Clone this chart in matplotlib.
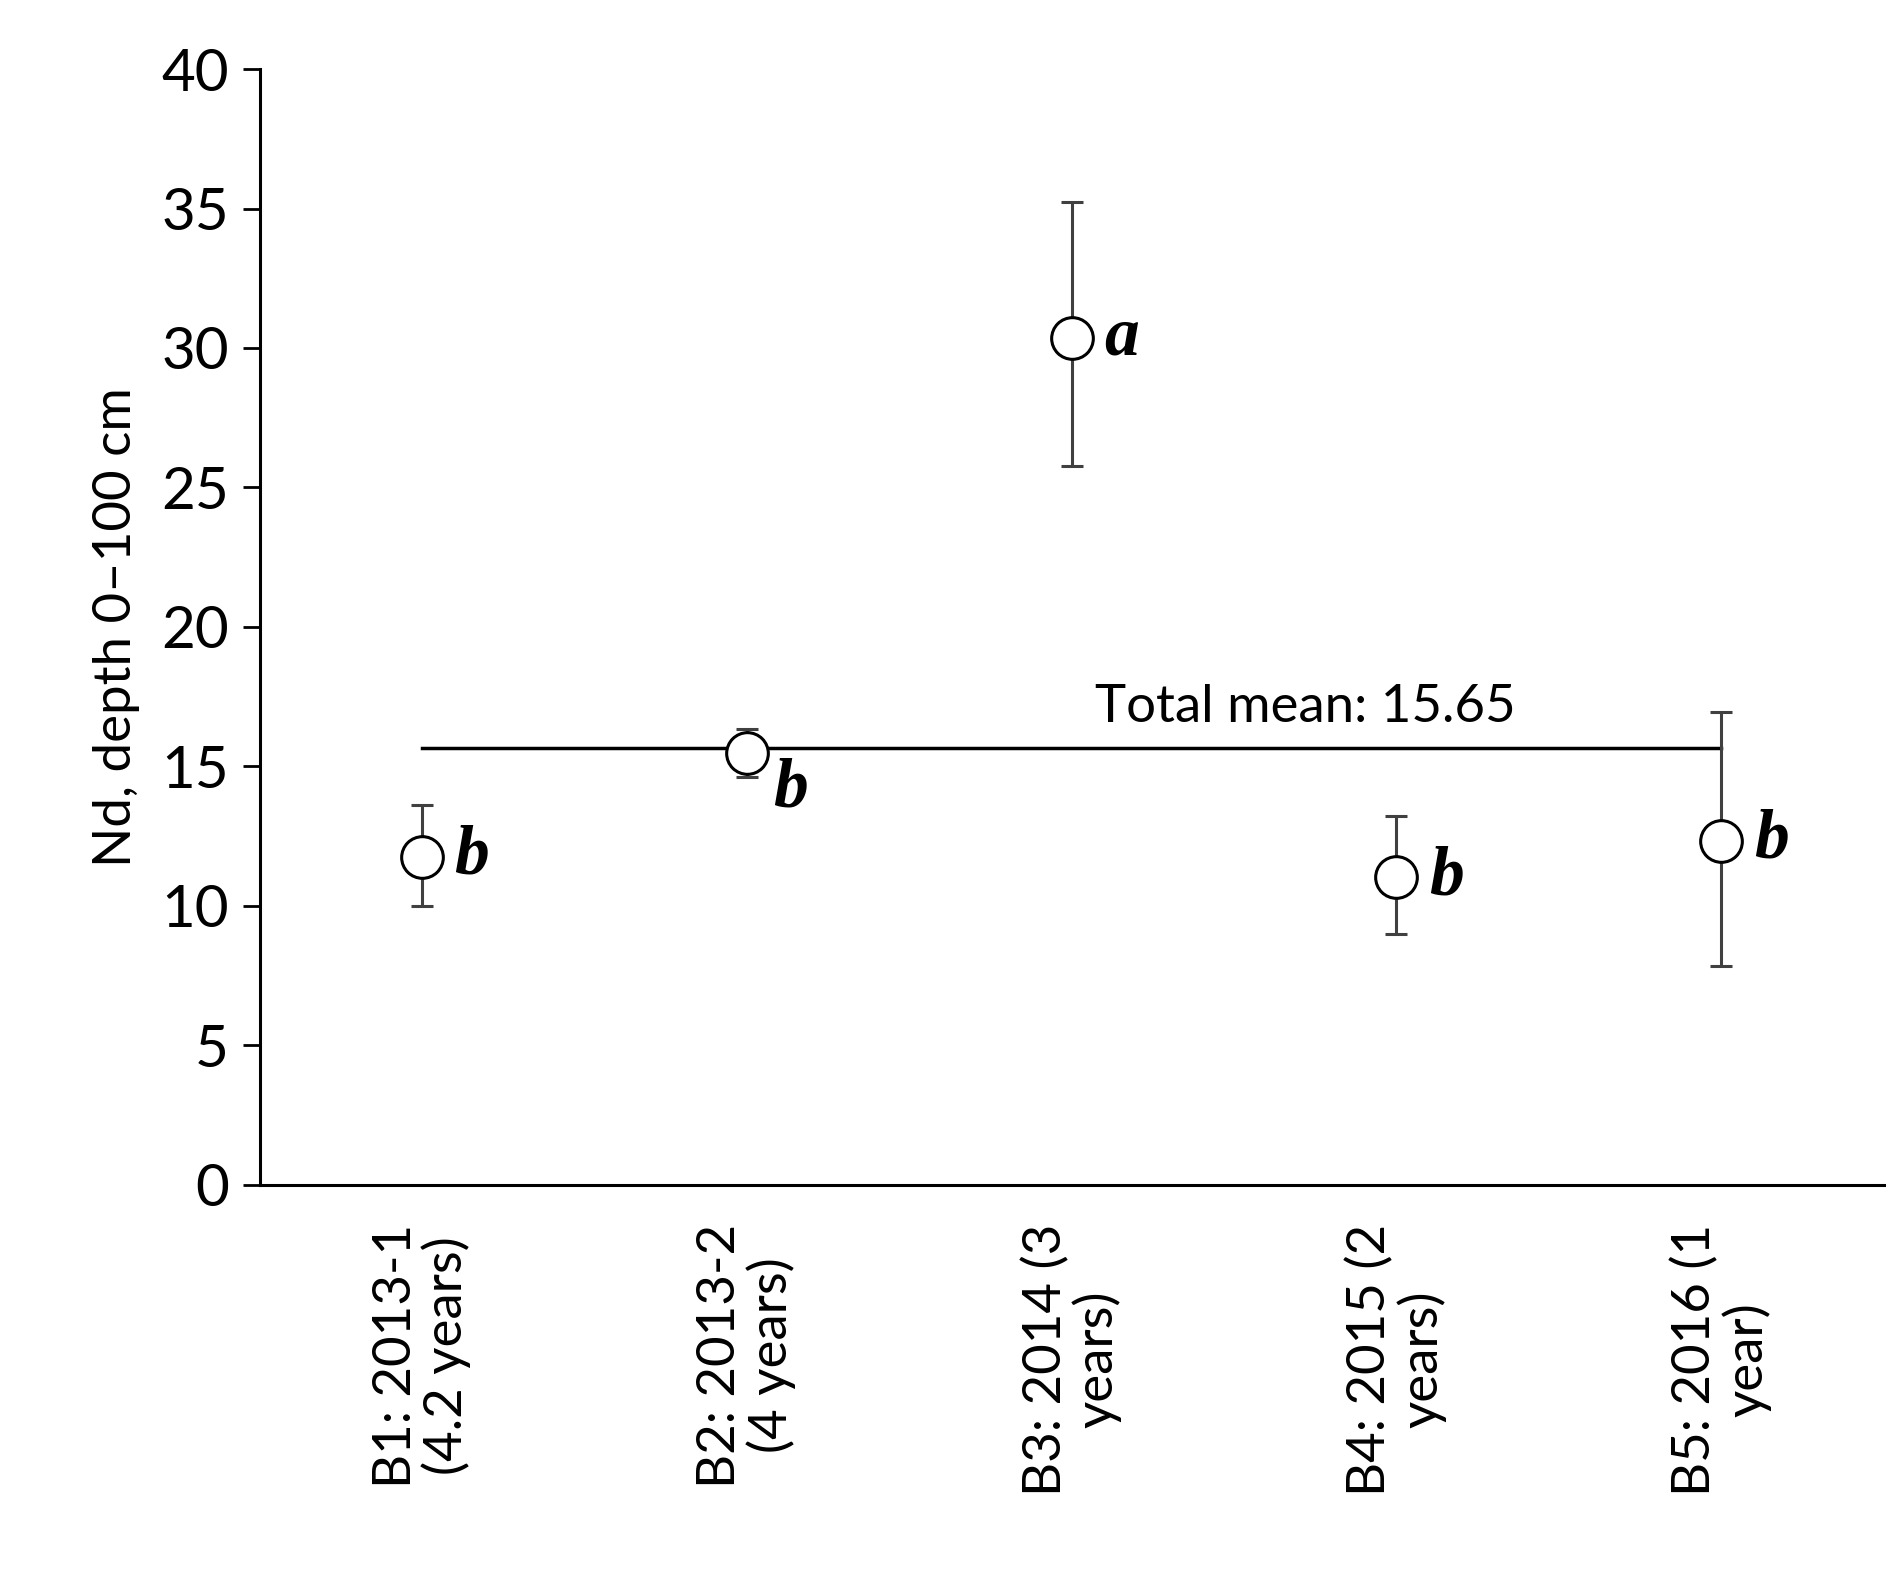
import matplotlib
matplotlib.use("Agg")
import matplotlib.pyplot as plt

categories = ["B1: 2013-1\n(4.2 years)", "B2: 2013-2\n(4 years)", "B3: 2014 (3\nyears)",
              "B4: 2015 (2\nyears)", "B5: 2016 (1\nyear)"]
means = [11.76, 15.47, 30.37, 11.02, 12.33]
err_up = [1.85, 0.85, 4.85, 2.2, 4.6]
err_down = [1.76, 0.85, 4.6, 2.05, 4.5]
letters = ["b", "b", "a", "b", "b"]
total_mean = 15.65

plt.rcParams['font.family'] = ['Lato', 'DejaVu Sans']
fig = plt.figure(figsize=(18.95, 15.71), dpi=100)
ax = fig.add_axes([0.137, 0.246, 0.857, 0.71])
x = list(range(len(categories)))
ax.plot([x[0], x[-1]], [total_mean, total_mean], color='black', lw=2.5, zorder=1)
ax.errorbar(x, means, yerr=[err_down, err_up], fmt='o', ms=30, mfc='white', mec='black',
            mew=2.2, ecolor='#404040', elinewidth=2.2, capsize=8, capthick=2.2, zorder=3)
offs = [0.1, 0.08, 0.1, 0.1, 0.1]
dys = [0, -1.3, 0, 0, 0]
for xi, m, l, o, d in zip(x, means, letters, offs, dys):
    ax.text(xi + o, m + d, l, family='Liberation Serif', style='italic', weight='bold',
            fontsize=50, va='center', ha='left')
ax.text(2.72, total_mean + 0.6, "Total mean: 15.65", fontsize=38, ha='center', va='bottom')
ax.set_xlim(-0.5, 4.5)
ax.set_ylim(0, 40)
ax.set_yticks(range(0, 41, 5))
ax.set_xticks(x)
ax.set_xticklabels(categories, rotation=90, fontsize=38, ha='center', va='top', linespacing=1.05)
ax.tick_params(axis='x', length=0, pad=28)
ax.tick_params(axis='y', labelsize=42, length=12, width=2, pad=10)
for s in ['top', 'right']:
    ax.spines[s].set_visible(False)
for s in ['left', 'bottom']:
    ax.spines[s].set_linewidth(2.2)
ax.set_ylabel("Nd, depth 0\u2013100 cm", fontsize=38, labelpad=15)
fig.savefig("out.png", dpi=100)
